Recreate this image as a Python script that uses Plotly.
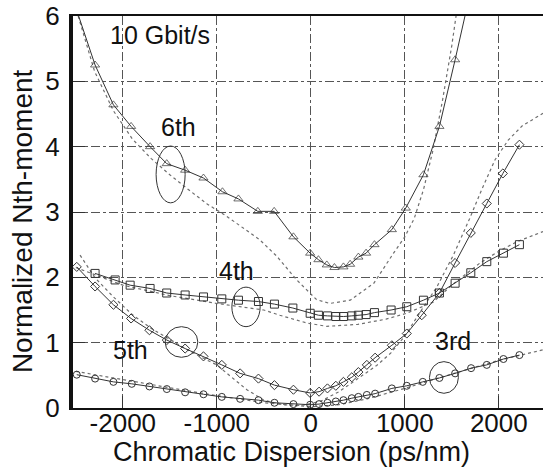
import plotly.graph_objects as go

# ---------------- data ----------------
# 6th moment (measured, triangles)
d6 = [-2470, -2295, -2100, -1912, -1710, -1533, -1337, -1142, -940, -770, -564, -390, -185, -7, 81, 170,
      251, 347, 418, 506, 588, 677, 862, 1010, 1198, 1368, 1535, 1640]
m6 = [6.0, 5.25, 4.64, 4.31, 4.0, 3.74, 3.64, 3.52, 3.31, 3.2, 3.01, 3.01, 2.62, 2.37, 2.27, 2.19,
      2.15, 2.16, 2.2, 2.31, 2.37, 2.5, 2.73, 3.06, 3.57, 4.31, 5.33, 6.0]
# 4th moment (measured, squares)
d4 = [-2295, -2082, -1922, -1710, -1533, -1337, -1142, -947, -770, -557, -387, -191, -7, 81, 177, 266,
      347, 436, 506, 588, 677, 854, 1021, 1198, 1368, 1535, 1702, 1872, 2049, 2219]
m4 = [2.06, 1.96, 1.88, 1.83, 1.76, 1.73, 1.70, 1.67, 1.65, 1.63, 1.59, 1.53, 1.45, 1.42, 1.41, 1.40,
      1.40, 1.41, 1.42, 1.43, 1.46, 1.50, 1.55, 1.65, 1.76, 1.91, 2.07, 2.24, 2.37, 2.50]
# 5th moment (measured, diamonds)
d5 = [-2490, -2295, -2100, -1912, -1717, -1532, -1337, -1142, -947, -752, -557, -387, -185, -7, 88, 177,
      266, 347, 436, 506, 596, 684, 862, 1021, 1180, 1368, 1535, 1702, 1872, 2043, 2219]
m5 = [2.16, 1.86, 1.58, 1.37, 1.19, 1.04, 0.91, 0.79, 0.66, 0.53, 0.45, 0.35, 0.28, 0.23, 0.25, 0.30,
      0.34, 0.40, 0.47, 0.55, 0.66, 0.77, 0.96, 1.14, 1.42, 1.76, 2.22, 2.68, 3.13, 3.59, 4.03]
# 3rd moment (measured, circles)
d3 = [-2490, -2295, -2100, -1905, -1717, -1532, -1337, -1142, -947, -752, -557, -387, -185, -7, 88, 177,
      266, 347, 436, 506, 596, 684, 862, 1021, 1191, 1368, 1535, 1705, 1872, 2049, 2219]
m3 = [0.51, 0.45, 0.40, 0.37, 0.33, 0.29, 0.24, 0.21, 0.17, 0.14, 0.12, 0.08, 0.06, 0.05, 0.06, 0.08,
      0.10, 0.12, 0.15, 0.17, 0.20, 0.22, 0.30, 0.34, 0.40, 0.46, 0.53, 0.61, 0.66, 0.75, 0.81]

# theory (dashed)
t6x = [-2475, -2300, -2100, -1900, -1700, -1500, -1300, -1100, -900, -750, -540, -360, -150, 60, 200,
       420, 670, 880, 1000, 1100, 1200, 1300, 1400, 1500, 1545]
t6y = [6.0, 5.15, 4.55, 4.12, 3.82, 3.57, 3.34, 3.12, 2.94, 2.78, 2.57, 2.32, 1.96, 1.66, 1.60,
       1.65, 1.91, 2.37, 2.62, 2.9, 3.35, 3.95, 4.7, 5.55, 6.0]
t4x = [-2500, -2000, -1500, -1000, -500, -330, -40, 170, 500, 800, 1020, 1300, 1500, 1800, 2000, 2200, 2470]
t4y = [2.15, 1.88, 1.72, 1.60, 1.50, 1.42, 1.30, 1.25, 1.28, 1.36, 1.45, 1.62, 1.88, 2.22, 2.40, 2.55, 2.70]
t5x = [-2455, -2300, -2100, -1900, -1700, -1500, -1300, -1100, -1000, -850, -680, -500, -300, -100, 100,
       300, 500, 700, 850, 1000, 1200, 1340, 1520, 1690, 1820, 1960, 2100, 2250, 2470]
t5y = [2.34, 2.0, 1.70, 1.43, 1.22, 1.05, 0.88, 0.73, 0.66, 0.48, 0.28, 0.12, 0.05, 0.04, 0.10,
       0.25, 0.45, 0.65, 0.84, 1.10, 1.55, 1.85, 2.35, 2.9, 3.35, 3.8, 4.1, 4.32, 4.51]
t3x = [-2500, -2000, -1500, -1000, -500, 0, 300, 600, 1000, 1500, 2000, 2470]
t3y = [0.56, 0.43, 0.31, 0.19, 0.08, 0.02, 0.05, 0.14, 0.30, 0.52, 0.73, 0.89]

x_ticks = [-2000, -1000, 0, 1000, 2000]
x_ticktext = ["-2000", "-1000", "0", "1000", "2000"]
y_ticks = [0, 1, 2, 3, 4, 5, 6]

x_title = "Chromatic Dispersion (ps/nm)"
y_title = "Normalized Nth-moment"

labels = ["10 Gbit/s", "6th", "4th", "5th", "3rd"]
label_x = [-1603, -1412, -787, -1922, 1514]
label_y = [5.71, 4.30, 2.10, 0.89, 1.03]

ell_x0 = [-1646, -840, -1550, 1262]
ell_x1 = [-1337, -539, -1202, 1570]
ell_y0 = [3.14, 1.245, 0.776, 0.225]
ell_y1 = [4.01, 1.85, 1.245, 0.71]

# ---------------- figure ----------------
FONT = "Liberation Sans, Arial, sans-serif"
INK = "#333333"
DASH_C = "#6f6f6f"

fig = go.Figure()

for tx, ty in [(t6x, t6y), (t4x, t4y), (t5x, t5y), (t3x, t3y)]:
    fig.add_trace(go.Scatter(x=tx, y=ty, mode="lines",
                             line=dict(color=DASH_C, width=1.2, dash="3px,3px"),
                             showlegend=False, hoverinfo="skip"))

sizes6 = [0] + [8] * (len(d6) - 2) + [0]
series = [
    (d6, m6, "triangle-up-open", sizes6),
    (d4, m4, "square-open", 8),
    (d5, m5, "diamond-open", 7),
    (d3, m3, "circle-open", 7),
]
for dx, my, sym, sz in series:
    fig.add_trace(go.Scatter(x=dx, y=my, mode="lines+markers",
                             line=dict(color=INK, width=1),
                             marker=dict(symbol=sym, size=sz, color=INK, line=dict(width=1, color=INK)),
                             showlegend=False, cliponaxis=True))

for t, lx, ly in zip(labels, label_x, label_y):
    fig.add_annotation(x=lx, y=ly, text=t, showarrow=False,
                       font=dict(family=FONT, size=25, color="#111111"))

for a, b, c, d in zip(ell_x0, ell_x1, ell_y0, ell_y1):
    fig.add_shape(type="circle", xref="x", yref="y", x0=a, x1=b, y0=c, y1=d,
                  line=dict(color=INK, width=1))

# axis titles as annotations for precise placement
fig.add_annotation(xref="paper", yref="paper", x=0.464, y=-0.112, text=x_title, showarrow=False,
                   xanchor="center", yanchor="middle", font=dict(family=FONT, size=27, color="#111111"))
fig.add_annotation(xref="paper", yref="paper", x=-0.107, y=0.476, text=y_title, showarrow=False,
                   textangle=-90, xanchor="center", yanchor="middle",
                   font=dict(family=FONT, size=28, color="#111111"))

fig.update_layout(
    width=543, height=467,
    margin=dict(l=73, r=0, t=16, b=59),
    paper_bgcolor="white", plot_bgcolor="white",
    font=dict(family=FONT, size=26, color="#111111"),
    xaxis=dict(range=[-2530, 2470], tickvals=x_ticks, ticktext=x_ticktext,
               showgrid=True, gridcolor="#555555", gridwidth=1, griddash="dashdot",
               showline=True, linecolor="#111111", linewidth=2, mirror=True,
               ticks="inside", ticklen=12, tickcolor="#333333",
               ticklabelstandoff=-9,
               zeroline=False, automargin=False),
    yaxis=dict(range=[0, 6], tickvals=y_ticks,
               showgrid=True, gridcolor="#555555", gridwidth=1, griddash="dashdot",
               showline=True, linecolor="#111111", linewidth=4,
               ticks="inside", ticklen=12, tickcolor="#333333",
               ticklabelstandoff=4,
               zeroline=False, automargin=False),
)

fig.write_html("out.html")
